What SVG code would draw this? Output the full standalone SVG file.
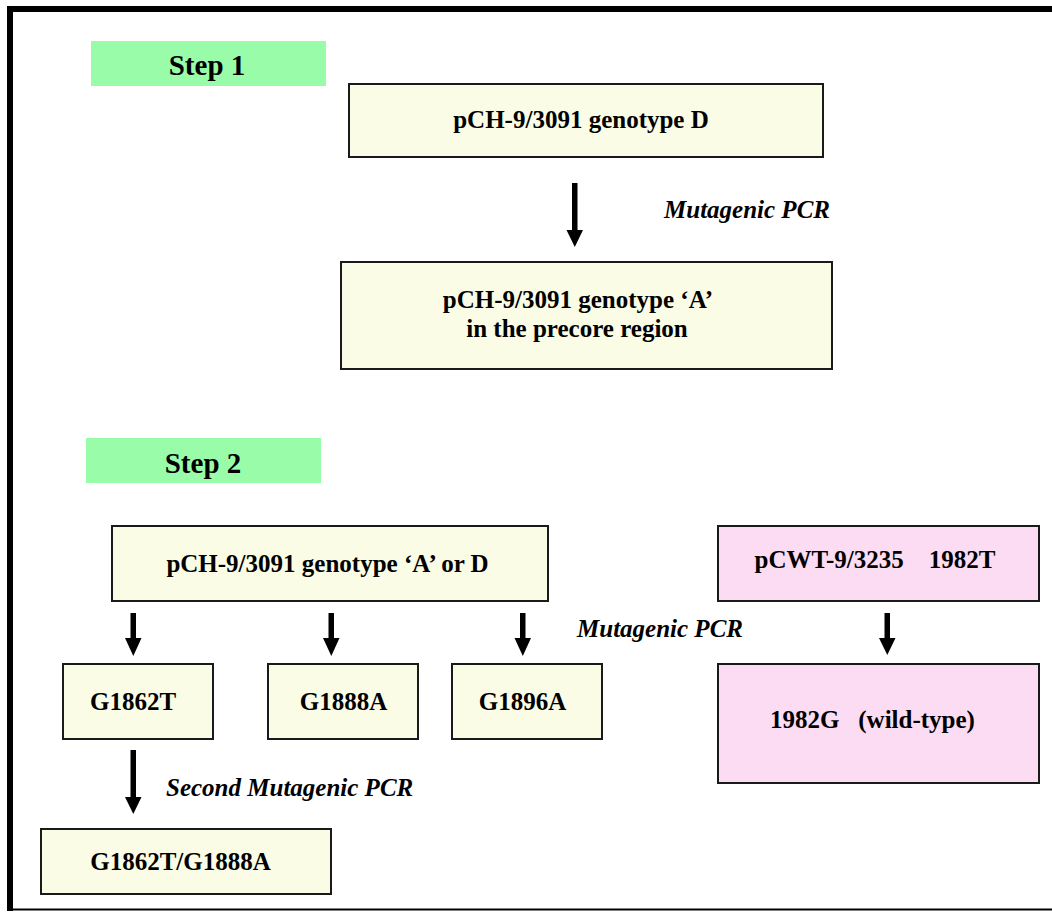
<svg xmlns="http://www.w3.org/2000/svg" width="1052" height="912" viewBox="0 0 1052 912">
<defs>
<style>
.bg{fill:#ffffff}
.frame{stroke:#000;fill:none}
.y{fill:#fafce6;stroke:#1a1a1a;stroke-width:2}
.p{fill:#fcdcf2;stroke:#1a1a1a;stroke-width:2}
.g{fill:#99fca9;stroke:none}
text{font-family:"Liberation Serif","Times New Roman",serif;font-weight:bold;fill:#000;font-size:25px}
.c{text-anchor:middle}
.step{font-size:29px}
.it{font-style:italic}
.pre{white-space:pre}
.arr{fill:#000}
</style>
</defs>
<rect class="bg" x="0" y="0" width="1052" height="912"/>
<g id="frame">
<line class="frame" x1="7" y1="9" x2="1052" y2="9" stroke-width="6"/>
<line class="frame" x1="10" y1="6" x2="10" y2="911" stroke-width="6"/>
<line class="frame" x1="7" y1="909.5" x2="1052" y2="909.5" stroke-width="2"/>
</g>
<g id="step1">
<rect class="g" x="91" y="41" width="235" height="45"/>
<text class="step c" x="207" y="75">Step 1</text>
</g>
<g id="n1">
<rect class="y" x="349" y="84" width="474" height="73"/>
<text class="c" x="581" y="128">pCH-9/3091 genotype D</text>
</g>
<g id="n2">
<rect class="y" x="341" y="262" width="491" height="107"/>
<text class="c" x="578" y="308">pCH-9/3091 genotype ‘A’</text>
<text class="c" x="577" y="337">in the precore region</text>
</g>
<g id="step2">
<rect class="g" x="86" y="438" width="235" height="45"/>
<text class="step c" x="203" y="473">Step 2</text>
</g>
<g id="n3">
<rect class="y" x="112" y="526" width="436" height="75"/>
<text class="c" x="327.5" y="572">pCH-9/3091 genotype ‘A’ or D</text>
</g>
<g id="n4">
<rect class="y" x="63" y="664" width="150" height="75"/>
<text class="c" x="133" y="710">G1862T</text>
</g>
<g id="n5">
<rect class="y" x="268" y="664" width="150" height="75"/>
<text class="c" x="343.5" y="710">G1888A</text>
</g>
<g id="n6">
<rect class="y" x="452" y="664" width="150" height="75"/>
<text class="c" x="522.5" y="710">G1896A</text>
</g>
<g id="n7">
<rect class="p" x="718" y="526" width="321" height="75"/>
<text class="c pre" x="875" y="568">pCWT-9/3235    1982T</text>
</g>
<g id="n8">
<rect class="p" x="718" y="664" width="321" height="119"/>
<text class="c pre" x="872.5" y="728">1982G   (wild-type)</text>
</g>
<g id="n9">
<rect class="y" x="41" y="829" width="290" height="65"/>
<text class="c" x="180.5" y="870">G1862T/G1888A</text>
</g>
<g id="connectors">
<rect class="arr" x="572" y="183" width="5.5" height="48"/>
<polygon class="arr" points="566.5,230 583,230 574.8,247"/>
<rect class="arr" x="130.5" y="613" width="5.5" height="26"/>
<polygon class="arr" points="125,638 141.5,638 133.3,656"/>
<rect class="arr" x="328.5" y="613" width="5.5" height="26"/>
<polygon class="arr" points="323,638 339.5,638 331.3,656"/>
<rect class="arr" x="520" y="613" width="5.5" height="26"/>
<polygon class="arr" points="514.5,638 531,638 522.8,656"/>
<rect class="arr" x="884.5" y="613" width="5.5" height="26"/>
<polygon class="arr" points="879,638 895.5,638 887.3,655"/>
<rect class="arr" x="130.5" y="750" width="5.5" height="48"/>
<polygon class="arr" points="125,797 141.5,797 133.3,814"/>
<text class="it" x="664" y="218">Mutagenic PCR</text>
<text class="it" x="577" y="637">Mutagenic PCR</text>
<text class="it" x="166" y="796">Second Mutagenic PCR</text>
</g>
</svg>
